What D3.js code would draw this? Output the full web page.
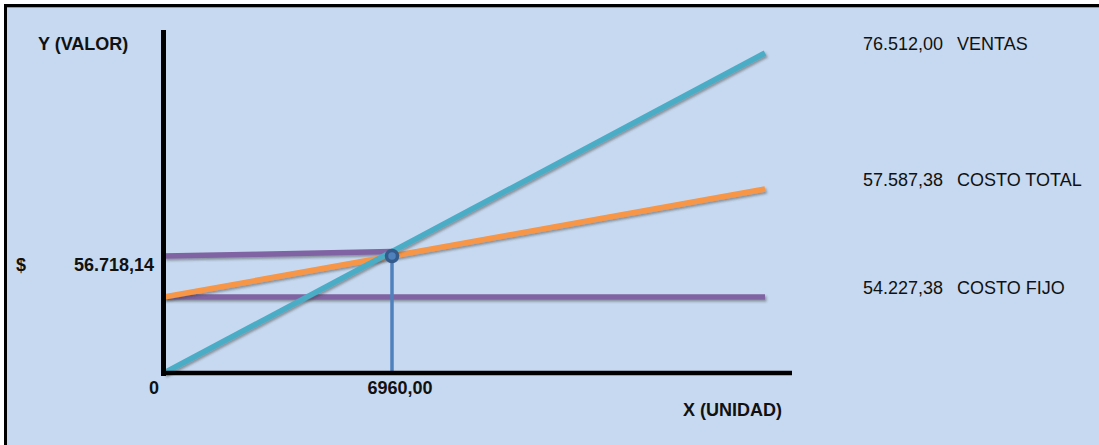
<!DOCTYPE html>
<html>
<head>
<meta charset="utf-8">
<script src="https://cdn.jsdelivr.net/npm/d3@7"></script>
<style>
  html, body { margin: 0; padding: 0; background: #ffffff; }
  svg { display: block; }
  text { font-family: "Liberation Sans", Arial, sans-serif; fill: #111; }
</style>
</head>
<body>
<svg id="chart" width="1099" height="445"></svg>
<script>
// Punto de equilibrio: unidades y valores
const seriesNames = ["VENTAS", "COSTO TOTAL", "COSTO FIJO"];
const unitsRange = [0, 9389];
const ventas = [0, 76512.00];
const costoTotal = [54227.38, 57587.38];
const costoFijo = [54227.38, 54227.38];
const breakEvenUnits = 6960;
const breakEvenValue = 56718.14;
const axisLabels = ["Y (VALOR)", "X (UNIDAD)"];

const colors = {
  bg: "#c6d9f0",
  ventas: "#4bacc6",
  total: "#f79646",
  fijo: "#8064a2",
  guide: "#4f81bd",
  marker: "#335b8c"
};

const es = d3.formatLocale({ decimal: ",", thousands: ".", grouping: [3], currency: ["$", ""] });
const fmtMoney = es.format(",.2f");
const fmtUnits = es.format(".2f");

const svg = d3.select("#chart");

// Fondo y marco
svg.append("rect").attr("x", 4).attr("y", 4).attr("width", 1095).attr("height", 441).attr("fill", colors.bg);
svg.append("rect").attr("x", 4).attr("y", 4).attr("width", 1095).attr("height", 3).attr("fill", "#000");
svg.append("rect").attr("x", 4).attr("y", 4).attr("width", 3).attr("height", 441).attr("fill", "#000");
svg.append("rect").attr("x", 7).attr("y", 7).attr("width", 1092).attr("height", 1).attr("fill", "#8e9aa8");

// Sombra de las líneas (región en coordenadas de usuario para que las rectas horizontales no se recorten)
const defs = svg.append("defs");
defs.append("filter").attr("id", "shadow")
  .attr("filterUnits", "userSpaceOnUse")
  .attr("x", 0).attr("y", 0).attr("width", 1099).attr("height", 445)
  .append("feDropShadow").attr("dx", 1.5).attr("dy", 2).attr("stdDeviation", 1)
  .attr("flood-color", "#404040").attr("flood-opacity", 0.45);

// Escalas esquemáticas (no proporcionales) por tramos
const x = d3.scaleLinear().domain([unitsRange[0], breakEvenUnits, unitsRange[1]]).range([164, 392, 765]);
const y = d3.scaleLinear()
  .domain([0, costoFijo[0], breakEvenValue, costoTotal[1], ventas[1]])
  .range([373, 297, 256, 189, 53]);

const line = d3.line().x(d => x(d[0])).y(d => y(d[1]));
const toPts = vals => [[unitsRange[0], vals[0]], [unitsRange[1], vals[1]]];

const g = svg.append("g");
const lw = 5.5;

// Costo fijo
g.append("path").attr("d", line(toPts(costoFijo)))
  .attr("stroke", colors.fijo).attr("stroke-width", lw).attr("fill", "none").attr("filter", "url(#shadow)");

// Línea guía del valor de equilibrio hasta la recta de ventas
const vx0 = x(unitsRange[0]), vx1 = x(unitsRange[1]);
const vy0 = y(ventas[0]), vy1 = y(ventas[1]);
const t = (x(breakEvenUnits) - vx0) / (vx1 - vx0);
const guideEndY = vy0 + t * (vy1 - vy0);
g.append("path")
  .attr("d", d3.line()([[x(0), y(breakEvenValue)], [x(breakEvenUnits), guideEndY]]))
  .attr("stroke", colors.fijo).attr("stroke-width", lw).attr("fill", "none").attr("filter", "url(#shadow)");

// Costo total
g.append("path").attr("d", line(toPts(costoTotal)))
  .attr("stroke", colors.total).attr("stroke-width", lw).attr("fill", "none").attr("filter", "url(#shadow)");

// Ventas
g.append("path").attr("d", line(toPts(ventas)))
  .attr("stroke", colors.ventas).attr("stroke-width", lw).attr("fill", "none").attr("filter", "url(#shadow)");

// Vertical del punto de equilibrio
g.append("line")
  .attr("x1", x(breakEvenUnits)).attr("x2", x(breakEvenUnits))
  .attr("y1", y(breakEvenValue)).attr("y2", y(0))
  .attr("stroke", colors.guide).attr("stroke-width", 3.5);

g.append("circle")
  .attr("cx", x(breakEvenUnits)).attr("cy", y(breakEvenValue)).attr("r", 5.5)
  .attr("fill", colors.guide).attr("stroke", colors.marker).attr("stroke-width", 3.5);

// Ejes
svg.append("line").attr("x1", 163.5).attr("x2", 163.5).attr("y1", 30).attr("y2", 376)
  .attr("stroke", "#000").attr("stroke-width", 5);
svg.append("line").attr("x1", 161).attr("x2", 792).attr("y1", y(0)).attr("y2", y(0))
  .attr("stroke", "#000").attr("stroke-width", 4.5);

// Títulos de ejes
svg.append("text").attr("x", 38).attr("y", 44).attr("dominant-baseline", "central")
  .attr("font-size", 18).attr("font-weight", "bold").text(axisLabels[0]);
svg.append("text").attr("x", 683).attr("y", 410).attr("dominant-baseline", "central")
  .attr("font-size", 18).attr("font-weight", "bold").text(axisLabels[1]);

// Rótulos de los ejes
svg.append("text").attr("x", 16).attr("y", y(breakEvenValue) + 9).attr("dominant-baseline", "central")
  .attr("font-size", 18).attr("font-weight", "bold").text("$");
svg.append("text").attr("x", 154).attr("y", y(breakEvenValue) + 9).attr("dominant-baseline", "central")
  .attr("text-anchor", "end").attr("font-size", 18).attr("font-weight", "bold").text(fmtMoney(breakEvenValue));
svg.append("text").attr("x", x(0) - 10).attr("y", 388).attr("dominant-baseline", "central")
  .attr("text-anchor", "middle").attr("font-size", 18).attr("font-weight", "bold").text(fmtUnits(0).split(",")[0]);
svg.append("text").attr("x", x(breakEvenUnits) + 8).attr("y", 388).attr("dominant-baseline", "central")
  .attr("text-anchor", "middle").attr("font-size", 18).attr("font-weight", "bold").text(fmtUnits(breakEvenUnits));

// Leyenda con valores al final de cada recta
const endValues = [ventas[1], costoTotal[1], costoFijo[1]];
const legend = svg.append("g");
seriesNames.forEach((name, i) => {
  const cy = y(endValues[i]) - 9;
  legend.append("text").attr("x", 863).attr("y", cy).attr("dominant-baseline", "central")
    .attr("font-size", 18).text(fmtMoney(endValues[i]));
  legend.append("text").attr("x", 957).attr("y", cy).attr("dominant-baseline", "central")
    .attr("font-size", 18).text(name);
});
</script>
</body>
</html>
